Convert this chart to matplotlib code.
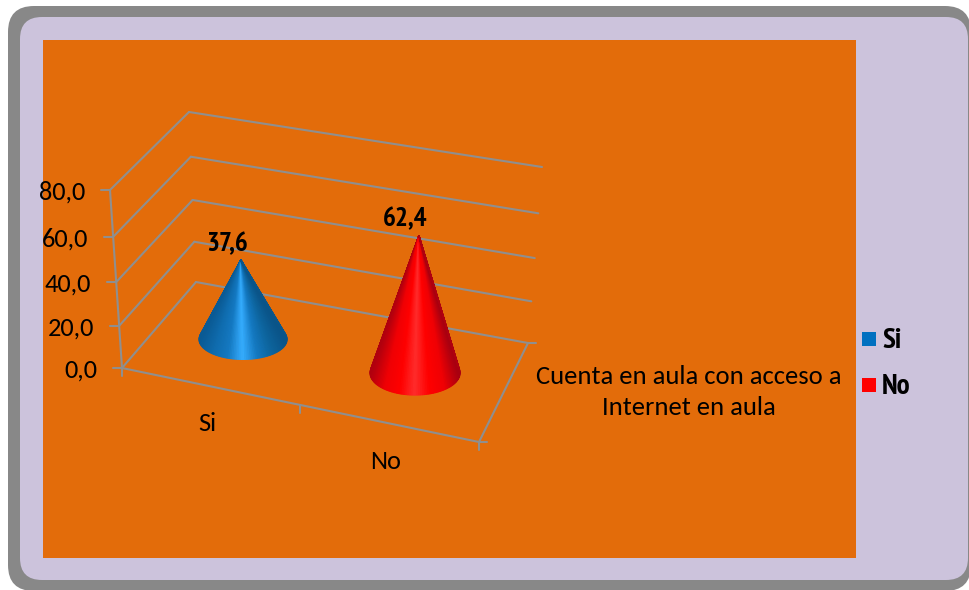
"""Cone chart (Excel style 3D) drawn by hand on one pixel-sized axes."""
import matplotlib
matplotlib.use("Agg")
import matplotlib.pyplot as plt
import numpy as np
from matplotlib.colors import LinearSegmentedColormap
from matplotlib.patches import FancyBboxPatch, Polygon, Rectangle

categories = ["Si", "No"]
values = [37.6, 62.4]
y_ticks = [0, 20, 40, 60, 80]
series_name = "Cuenta en aula con acceso a\nInternet en aula"

COLORS = ["#0070C0", "#FF0000"]
SHADES = [
    ["#0a5a94", "#0f6cae", "#1479c2", "#35adff", "#1479c2", "#0d659f", "#0a5488"],
    ["#b0000e", "#f00004", "#ff0000", "#ff2c2c", "#ff0000", "#f00004", "#a80010"],
]
GRID = "#8f8f8f"
SANS = ["Carlito", "Open Sans"]
NARROW = ["PT Sans Narrow", "Pragati Narrow", "Liberation Sans"]

# wall and floor corners in pixels: (front-left, back-left, front-right, back-right)
FLOOR = np.array([[122, 368], [196, 282], [479, 442], [528, 343]], float)
TOP = np.array([[110, 190], [189, 112], [485, 256], [542, 167]], float)


def project(u, v, z):
    """u: 0..2 along categories, v: 0..1 into the depth, z: axis value."""
    t = u / 2
    w = np.array([(1 - t) * (1 - v), (1 - t) * v, t * (1 - v), t * v])
    # the walls open a little towards the top
    h = z / y_ticks[-1]
    h = h - 0.07 * h * (1 - h)
    return w @ (FLOOR + (TOP - FLOOR) * h)


def seg(ax, p, q, lw=1.5):
    ax.plot([p[0], q[0]], [p[1], q[1]], color=GRID, lw=lw, solid_capstyle="round", zorder=3)


def cone(ax, u, value, shades, a, b):
    cx, cy = project(u, 0.52, 0)
    apex = project(u, 0.52, value)
    cmap = LinearSegmentedColormap.from_list("cone", shades)
    ts = np.linspace(np.pi + 0.32, -0.32, 91)
    xs = cx + a * np.cos(ts)
    ys = cy + b * np.sin(ts)
    for i in range(len(ts) - 1):
        shade = (xs[i] + xs[i + 1] - 2 * cx) / (4 * a) + 0.5
        ax.add_patch(Polygon([apex, (xs[i], ys[i]), (xs[i + 1], ys[i + 1])],
                             fc=cmap(shade), ec=cmap(shade), lw=0.8, zorder=5))
    return apex


fig = plt.figure(figsize=(9.69, 5.9), dpi=100, facecolor="white")
ax = fig.add_axes([0, 0, 1, 1])
ax.set_xlim(0, 969)
ax.set_ylim(590, 0)
ax.axis("off")

# frame
ax.add_patch(FancyBboxPatch((8, 6), 963, 585, boxstyle="round,pad=0,rounding_size=26",
                            fc="#888888", ec="none", zorder=0))
ax.add_patch(FancyBboxPatch((20, 17), 948, 563, boxstyle="round,pad=0,rounding_size=22",
                            fc="#CCC3DC", ec="none", zorder=1))
ax.add_patch(Rectangle((43, 40), 813, 518, fc="#E36C0A", ec="none", zorder=2))

# walls and floor
for tick in y_ticks:
    front = project(0, 0, tick)
    back = project(0, 1, tick)
    right = project(2, 1, tick)
    seg(ax, front, back)
    seg(ax, back, right)
    seg(ax, front, front - [9, 0])
    ax.text(front[0] - 25, front[1] + 2, f"{tick:.1f}".replace(".", ","), ha="right",
            va="center", fontsize=19, family=SANS, color="black", zorder=7)
seg(ax, project(0, 0, 0), project(0, 0, y_ticks[-1]))
seg(ax, project(0, 0, 0), project(2, 0, 0))
seg(ax, project(2, 0, 0), project(2, 1, 0))
for u in range(len(categories) + 1):
    p = project(u, 0, 0)
    seg(ax, p, p + [0, 8])
for v in (0, 1):
    p = project(2, v, 0)
    seg(ax, p, p + [8, 0])

# cones and labels
for i, (name, value) in enumerate(zip(categories, values)):
    u = i + 0.5
    apex = cone(ax, u - 0.02, value, SHADES[i], 44 + i, 20 + 2 * i)
    ax.text(apex[0] - 14, apex[1] - 16, f"{value:.1f}".replace(".", ","), ha="center",
            va="center", fontsize=19.5, fontweight="bold", family=NARROW, zorder=7)
    p = project(u, 0, 0)
    ax.text(p[0] - 4, p[1] + 35 + 2 + i, name, ha="center", va="center", fontsize=19,
            family=SANS, zorder=7)

ax.text(689, 392, series_name, ha="center", va="center", fontsize=19.2, family=SANS,
        linespacing=1.4, zorder=7)

# legend
for name, color, y in zip(categories, COLORS, (339, 385)):
    ax.add_patch(Rectangle((862, y - 7), 14, 14, fc=color, ec="none", zorder=7))
    ax.text(882, y + 2, name, ha="left", va="center", fontsize=21, fontweight="bold",
            family=NARROW, zorder=7)

fig.savefig("out.png", dpi=100)
